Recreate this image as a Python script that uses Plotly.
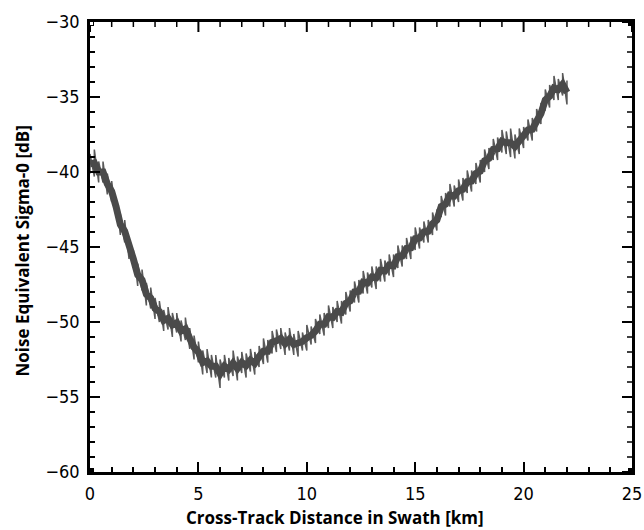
import plotly.graph_objects as go

# Cross-track distance bins [km] (0.2 km step) with lower / upper envelope of NESZ [dB]
distance_km = [round(0.2 * i, 1) for i in range(111)]
nesz_high = [-38.8, -38.5, -39.3, -39.3, -40.1, -40.6, -41.7, -42.8, -43.2, -44.4,
             -45.2, -46.1, -46.5, -47.4, -47.7, -48.4, -48.6, -49.2, -49.0, -49.4,
             -49.4, -49.9, -49.7, -50.4, -50.9, -51.3, -51.9, -51.8, -52.2, -52.2,
             -52.5, -52.2, -52.4, -51.9, -52.3, -52.0, -52.1, -51.8, -52.0, -51.6,
             -51.1, -51.2, -50.6, -50.5, -50.4, -50.7, -50.4, -50.8, -50.6, -50.7,
             -50.2, -50.3, -49.8, -49.5, -49.4, -48.9, -49.0, -48.6, -48.6, -48.0,
             -47.9, -47.3, -47.2, -46.6, -46.7, -46.3, -46.3, -45.8, -45.9, -45.5,
             -45.5, -44.9, -44.9, -44.4, -44.3, -43.7, -43.7, -43.3, -43.2, -42.7,
             -42.5, -41.6, -41.4, -40.8, -40.9, -40.5, -40.4, -39.9, -39.9, -39.4,
             -39.2, -38.5, -38.4, -37.8, -37.7, -37.2, -37.3, -37.1, -37.5, -37.1,
             -37.0, -36.5, -36.4, -35.8, -35.4, -34.5, -34.2, -33.6, -33.8, -33.4,
             -33.9]
nesz_low = [-40.1, -40.3, -40.7, -40.7, -41.5, -42.0, -42.9, -44.2, -44.7, -45.8,
            -46.4, -47.6, -47.9, -48.9, -49.1, -49.8, -50.0, -50.6, -50.5, -51.0,
            -50.7, -51.3, -51.2, -51.8, -52.5, -52.7, -53.5, -53.4, -53.7, -53.7,
            -54.4, -53.7, -53.9, -53.6, -53.9, -53.4, -53.7, -53.3, -53.5, -53.0,
            -52.8, -52.7, -52.1, -52.0, -51.8, -52.2, -51.9, -52.2, -52.3, -51.9,
            -51.9, -51.5, -51.4, -50.8, -50.9, -50.4, -50.4, -50.0, -50.1, -49.5,
            -49.3, -48.7, -48.7, -48.1, -48.1, -47.7, -47.8, -47.3, -47.3, -46.9,
            -47.0, -46.4, -46.3, -45.8, -45.8, -45.2, -45.1, -44.7, -44.7, -44.2,
            -43.9, -43.0, -42.9, -42.3, -42.3, -42.0, -41.9, -41.4, -41.3, -40.8,
            -40.7, -40.0, -39.8, -39.2, -39.2, -38.7, -38.8, -39.0, -39.1, -38.8,
            -38.4, -37.9, -37.9, -37.3, -36.8, -35.9, -35.7, -35.2, -35.2, -34.9,
            -35.5]

x_ticks = [0, 5, 10, 15, 20, 25]
x_ticklabels = ["0", "5", "10", "15", "20", "25"]
x_minor = list(range(0, 26))
y_ticks = [-60, -55, -50, -45, -40, -35, -30]
y_ticklabels = ["\u221260", "\u221255", "\u221250", "\u221245", "\u221240", "\u221235", "\u221230"]
y_minor = list(range(-60, -29))

# min/max decimated trace: vertical stroke per bin
xs, ys = [], []
for d, lo, hi in zip(distance_km, nesz_low, nesz_high):
    xs += [d, d]
    ys += [lo, hi]
mid = [(lo + hi) / 2 for lo, hi in zip(nesz_low, nesz_high)]

fig = go.Figure()
fig.add_trace(go.Scatter(x=xs, y=ys, mode="lines",
                         line=dict(color="#595959", width=1.5),
                         hoverinfo="skip", showlegend=False))
fig.add_trace(go.Scatter(x=distance_km, y=mid, mode="lines",
                         line=dict(color="#4a4a4a", width=7),
                         hoverinfo="skip", showlegend=False))

tickfont = dict(family="Liberation Sans Narrow, DejaVu Sans Condensed, Liberation Sans", size=18, color="black")
titlefont = dict(family="Open Sans", size=17, color="black", weight="bold")

common = dict(showline=True, linecolor="black", linewidth=2.5, mirror=True,
              ticks="inside", ticklen=10, tickwidth=2, tickcolor="black",
              showgrid=False, zeroline=False, tickfont=tickfont, automargin=False,
              tickmode="array")

fig.update_xaxes(range=[0, 25], tickvals=x_ticks, ticktext=x_ticklabels, ticklabelstandoff=4,
                 minor=dict(ticks="inside", ticklen=5, tickwidth=1.5, tickcolor="black",
                            tickmode="array", tickvals=x_minor), **common)
fig.update_yaxes(range=[-60, -30], tickvals=y_ticks, ticktext=y_ticklabels, ticklabelstandoff=4,
                 minor=dict(ticks="inside", ticklen=5, tickwidth=1.5, tickcolor="black",
                            tickmode="array", tickvals=y_minor), **common)

# mirrored ticks on the top and right frame edges
for xv in x_minor:
    ln = 10 if xv in x_ticks else 5
    fig.add_shape(type="line", xref="x", yref="paper", ysizemode="pixel", yanchor=1,
                  x0=xv, x1=xv, y0=0, y1=-ln,
                  line=dict(color="black", width=2 if ln == 10 else 1.5))
for yv in y_minor:
    ln = 10 if yv in y_ticks else 5
    fig.add_shape(type="line", xref="paper", yref="y", xsizemode="pixel", xanchor=1,
                  y0=yv, y1=yv, x0=0, x1=-ln,
                  line=dict(color="black", width=2 if ln == 10 else 1.5))

fig.add_annotation(text="Cross-Track Distance in Swath [km]", font=titlefont,
                   xref="paper", yref="paper", x=0.452, y=0, xanchor="center", yanchor="middle",
                   yshift=-45, showarrow=False)
fig.add_annotation(text="Noise Equivalent Sigma-0 [dB]", font=titlefont, textangle=-90,
                   xref="paper", yref="paper", x=0, y=0.49, xanchor="center", yanchor="middle",
                   xshift=-68, showarrow=False)

# small corner markers
for cx, cy in [(0, -30), (25, -30), (0, -60), (25, -60)]:
    fig.add_shape(type="rect", xref="x", yref="y", xsizemode="pixel", ysizemode="pixel",
                  xanchor=cx, yanchor=cy, x0=-4, x1=4, y0=-4, y1=4,
                  fillcolor="black", line=dict(width=0), layer="above")
    fig.add_shape(type="rect", xref="x", yref="y", xsizemode="pixel", ysizemode="pixel",
                  xanchor=cx, yanchor=cy, x0=0, x1=3, y0=-3, y1=0,
                  fillcolor="white", line=dict(width=0), layer="above")

fig.update_layout(width=644, height=530, margin=dict(l=90, r=12, t=22, b=58),
                  plot_bgcolor="white", paper_bgcolor="white")
fig.write_html("out.html")
